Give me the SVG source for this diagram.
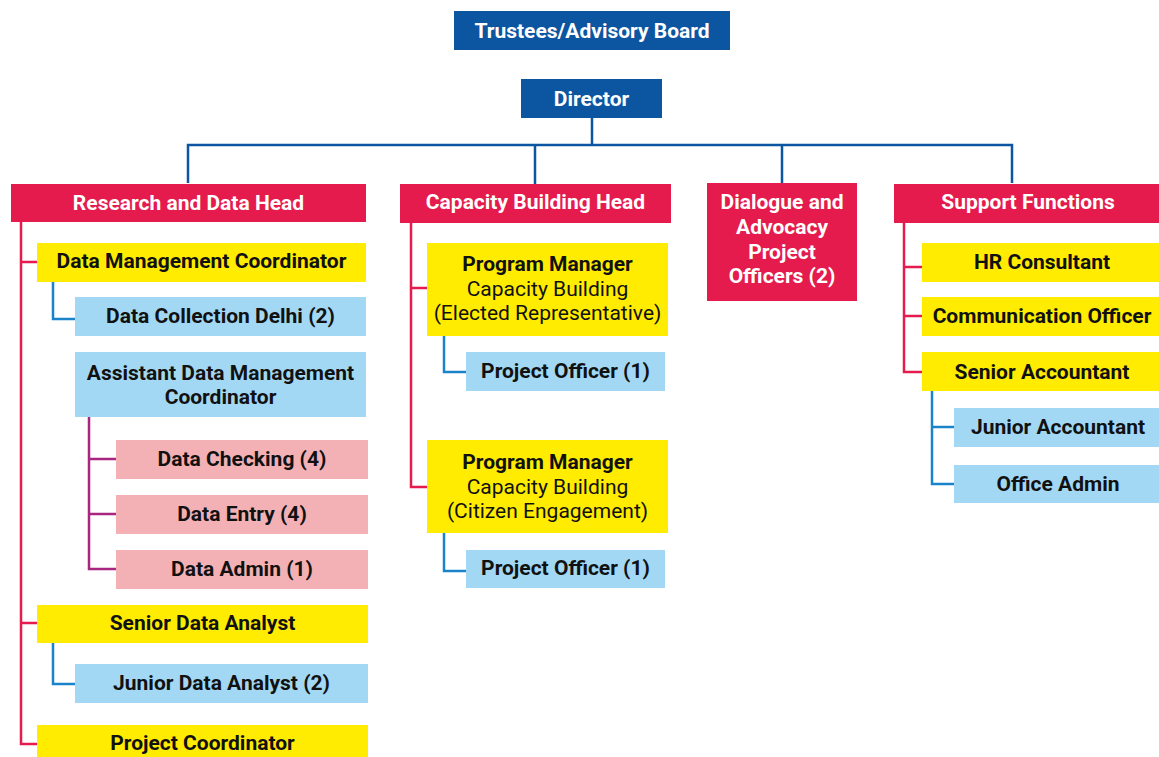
<svg xmlns="http://www.w3.org/2000/svg" width="1159" height="757" viewBox="0 0 1159 757">
<style>
text{font-family:Roboto,"Liberation Sans",sans-serif;font-size:21px;font-weight:700;text-anchor:middle}
.w{fill:#ffffff}
.k{fill:#111111}
.r{font-weight:400}
.bl{fill:#0c55a1}
.rd{fill:#e41b4c}
.ye{fill:#ffec00}
.lb{fill:#a3d8f4}
.pk{fill:#f4b1b5}
.cb{stroke:#0c55a1;stroke-width:2.5;fill:none}
.cr{stroke:#e41b4c;stroke-width:2.5;fill:none}
.cl{stroke:#1a83ca;stroke-width:2.5;fill:none}
.cp{stroke:#a8267f;stroke-width:2.5;fill:none}
</style>
<rect width="1159" height="757" fill="#ffffff"/>
<g id="connectors">
<path class="cb" d="M592 118V145M188 183V145H1012V183M535 145V184M782 145V183"/>
<path class="cr" d="M21 222V744H37M21 262H37M21 623H37"/>
<path class="cl" d="M53 282V319H75M53 643V684H75"/>
<path class="cp" d="M89 417V569H116M89 459H116M89 514H116"/>
<path class="cr" d="M411 223V487H427M411 288H427"/>
<path class="cl" d="M444 336V372H466M444 533V571H466"/>
<path class="cr" d="M904 223V372H922M904 267H922M904 316H922"/>
<path class="cl" d="M932 391V484H954M932 427H954"/>
</g>
<g id="trustees"><rect class="bl" x="454" y="11" width="276" height="39"/><text class="w" x="592" y="38">Trustees/Advisory Board</text></g>
<g id="director"><rect class="bl" x="521" y="79" width="141" height="39"/><text class="w" x="591.5" y="106">Director</text></g>
<g id="research-head"><rect class="rd" x="11" y="184" width="355" height="38"/><text class="w" x="188.5" y="210">Research and Data Head</text></g>
<g id="dmc"><rect class="ye" x="37" y="243" width="329" height="39"/><text class="k" x="201.5" y="268">Data Management Coordinator</text></g>
<g id="dcd"><rect class="lb" x="75" y="297" width="291" height="39"/><text class="k" x="220.5" y="323">Data Collection Delhi (2)</text></g>
<g id="admc"><rect class="lb" x="75" y="352" width="291" height="65"/><text class="k" x="220.5" y="380">Assistant Data Management</text><text class="k" x="220.5" y="404">Coordinator</text></g>
<g id="checking"><rect class="pk" x="116" y="440" width="252" height="39"/><text class="k" x="242" y="466">Data Checking (4)</text></g>
<g id="entry"><rect class="pk" x="116" y="495" width="252" height="39"/><text class="k" x="242" y="521">Data Entry (4)</text></g>
<g id="admin"><rect class="pk" x="116" y="550" width="252" height="39"/><text class="k" x="242" y="576">Data Admin (1)</text></g>
<g id="sda"><rect class="ye" x="37" y="605" width="331" height="38"/><text class="k" x="202.5" y="630">Senior Data Analyst</text></g>
<g id="jda"><rect class="lb" x="75" y="664" width="293" height="39"/><text class="k" x="221.5" y="690">Junior Data Analyst (2)</text></g>
<g id="pc"><rect class="ye" x="37" y="725" width="331" height="40"/><text class="k" x="202.5" y="750">Project Coordinator</text></g>
<g id="cb-head"><rect class="rd" x="400" y="184" width="271" height="39"/><text class="w" x="535.5" y="209">Capacity Building Head</text></g>
<g id="pm1"><rect class="ye" x="427" y="243" width="241" height="93"/><text class="k" x="547.5" y="271">Program Manager</text><text class="k r" x="547.5" y="296">Capacity Building</text><text class="k r" x="547.5" y="320">(Elected Representative)</text></g>
<g id="po1"><rect class="lb" x="466" y="352" width="199" height="39"/><text class="k" x="565.5" y="378">Project Officer (1)</text></g>
<g id="pm2"><rect class="ye" x="427" y="440" width="241" height="93"/><text class="k" x="547.5" y="469">Program Manager</text><text class="k r" x="547.5" y="494">Capacity Building</text><text class="k r" x="547.5" y="518">(Citizen Engagement)</text></g>
<g id="po2"><rect class="lb" x="466" y="550" width="199" height="38"/><text class="k" x="565.5" y="575">Project Officer (1)</text></g>
<g id="dialogue"><rect class="rd" x="707" y="183" width="150" height="118"/><text class="w" x="782" y="209">Dialogue and</text><text class="w" x="782" y="234">Advocacy</text><text class="w" x="782" y="259">Project</text><text class="w" x="782" y="283">Officers (2)</text></g>
<g id="support"><rect class="rd" x="894" y="184" width="265" height="39"/><text class="w" x="1028" y="209">Support Functions</text></g>
<g id="hr"><rect class="ye" x="922" y="243" width="237" height="39"/><text class="k" x="1042" y="269">HR Consultant</text></g>
<g id="comm"><rect class="ye" x="922" y="297" width="237" height="39"/><text class="k" x="1042" y="323">Communication Officer</text></g>
<g id="sacc"><rect class="ye" x="922" y="352" width="237" height="39"/><text class="k" x="1042" y="379">Senior Accountant</text></g>
<g id="jacc"><rect class="lb" x="954" y="408" width="205" height="39"/><text class="k" x="1058" y="434">Junior Accountant</text></g>
<g id="office"><rect class="lb" x="954" y="465" width="205" height="38"/><text class="k" x="1058" y="491">Office Admin</text></g>
</svg>
